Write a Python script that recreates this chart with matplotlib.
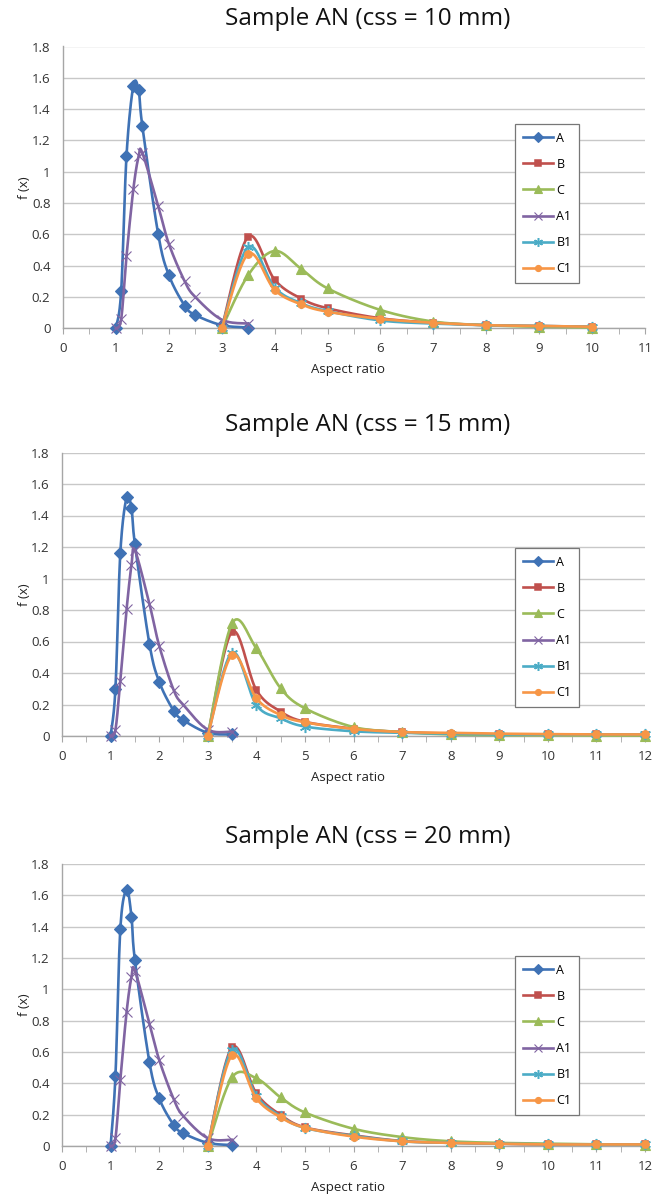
import numpy as np
import matplotlib.pyplot as plt
from matplotlib.lines import Line2D
from matplotlib.ticker import MultipleLocator, FuncFormatter

plt.rcParams['font.family'] = ['Open Sans', 'DejaVu Sans']

# aspect-ratio classes
x_a = [1.0, 1.1, 1.2, 1.33, 1.43, 1.5, 1.8, 2.0, 2.3, 2.5, 3.0, 3.5]
x_b10 = [3, 3.5, 4, 4.5, 5, 6, 7, 8, 9, 10]
x_b = [3, 3.5, 4, 4.5, 5, 6, 7, 8, 9, 10, 11, 12]

# css = 10 mm
a_10 = [0, 0.24, 1.10, 1.55, 1.52, 1.29, 0.60, 0.34, 0.145, 0.085, 0.02, 0.005]
a1_10 = [0, 0.06, 0.46, 0.89, 1.10, 1.12, 0.78, 0.54, 0.30, 0.20, 0.055, 0.03]
b_10 = [0, 0.585, 0.31, 0.19, 0.128, 0.064, 0.036, 0.02, 0.015, 0.01]
c_10 = [0, 0.34, 0.494, 0.38, 0.255, 0.117, 0.043, 0.02, 0.01, 0.005]
b1_10 = [0, 0.52, 0.26, 0.16, 0.11, 0.05, 0.03, 0.02, 0.015, 0.01]
c1_10 = [0, 0.475, 0.245, 0.153, 0.106, 0.06, 0.035, 0.02, 0.015, 0.01]

# css = 15 mm
a_15 = [0, 0.30, 1.16, 1.515, 1.445, 1.22, 0.584, 0.345, 0.16, 0.10, 0.02, 0.01]
a1_15 = [0, 0.04, 0.35, 0.806, 1.086, 1.18, 0.838, 0.574, 0.29, 0.197, 0.04, 0.028]
b_15 = [0, 0.662, 0.292, 0.155, 0.09, 0.047, 0.025, 0.015, 0.01, 0.01, 0.01, 0.005]
c_15 = [0, 0.715, 0.557, 0.303, 0.176, 0.057, 0.025, 0.01, 0.005, 0.005, 0.003, 0.003]
b1_15 = [0, 0.53, 0.197, 0.112, 0.06, 0.03, 0.02, 0.015, 0.01, 0.01, 0.01, 0.01]
c1_15 = [0, 0.514, 0.24, 0.133, 0.087, 0.045, 0.025, 0.02, 0.015, 0.012, 0.01, 0.01]

# css = 20 mm
a_20 = [0, 0.447, 1.383, 1.634, 1.464, 1.187, 0.534, 0.304, 0.134, 0.081, 0.02, 0.006]
a1_20 = [0, 0.05, 0.42, 0.857, 1.08, 1.12, 0.78, 0.55, 0.298, 0.19, 0.05, 0.04]
b_20 = [0, 0.63, 0.336, 0.198, 0.119, 0.068, 0.032, 0.02, 0.015, 0.01, 0.01, 0.01]
c_20 = [0, 0.438, 0.432, 0.31, 0.214, 0.11, 0.057, 0.03, 0.02, 0.015, 0.01, 0.008]
b1_20 = [0, 0.615, 0.32, 0.19, 0.115, 0.065, 0.03, 0.02, 0.015, 0.01, 0.01, 0.01]
c1_20 = [0, 0.58, 0.304, 0.183, 0.117, 0.06, 0.03, 0.02, 0.015, 0.01, 0.01, 0.01]

labels = ["A", "B", "C", "A1", "B1", "C1"]
colors = ["#3F72B5", "#C0504D", "#9BBB59", "#8064A2", "#4BACC6", "#F79646"]
asterisk = (6, 2, 0)
markers = ["D", "s", "^", "x", asterisk, "o"]
msizes = [6, 5, 6.5, 7, 8, 5.5]
open_marks = (1, 4)  # drawn as strokes only

panels = [
    ("Sample AN (css = 10 mm)", 11, [(x_a, a_10), (x_b10, b_10), (x_b10, c_10),
                                    (x_a, a1_10), (x_b10, b1_10), (x_b10, c1_10)]),
    ("Sample AN (css = 15 mm)", 12, [(x_a, a_15), (x_b, b_15), (x_b, c_15),
                                    (x_a, a1_15), (x_b, b1_15), (x_b, c1_15)]),
    ("Sample AN (css = 20 mm)", 12, [(x_a, a_20), (x_b, b_20), (x_b, c_20),
                                    (x_a, a1_20), (x_b, b1_20), (x_b, c1_20)]),
]

# axes boxes in pixels: left, right, top (1.8), bottom (0)
boxes = [(63, 645, 46.5, 328.3), (62, 645, 452.5, 736), (62, 645, 864, 1146)]
title_y = [19, 425, 837]
legend_top = [124, 548, 956]
W, H = 664, 1197


def smooth(x, y, n=20):
    # spreadsheet-style smoothed line: cubic Bezier through the points
    p = np.column_stack([x, y]).astype(float)
    pts = np.vstack([p[0], p, p[-1]])
    out = [p[0]]
    t = np.linspace(0, 1, n)[1:, None]
    for i in range(len(p) - 1):
        p0, p1 = pts[i + 1], pts[i + 2]
        c1 = p0 + (pts[i + 2] - pts[i]) / 6
        c2 = p1 - (pts[i + 3] - pts[i + 1]) / 6
        seg = ((1 - t) ** 3) * p0 + 3 * ((1 - t) ** 2) * t * c1 + 3 * (1 - t) * t ** 2 * c2 + t ** 3 * p1
        out.extend(seg)
    out = np.array(out)
    return out[:, 0], out[:, 1]


def fmt(v, pos):
    s = f"{v:.1f}"
    return s[:-2] if s.endswith(".0") else s


fig = plt.figure(figsize=(W / 100, H / 100), dpi=100)

for k, (title, xmax, series) in enumerate(panels):
    l, r, t, b = boxes[k]
    ax = fig.add_axes([l / W, 1 - b / H, (r - l) / W, (b - t) / H])
    for j, (xs, ys) in enumerate(series):
        sx, sy = smooth(xs, ys)
        z = 3 + j
        ax.plot(sx, sy, color=colors[j], lw=1.9, zorder=z, clip_on=False)
        mew = 1.1 if j in open_marks else 0.8
        ax.plot(xs, ys, ls="none", marker=markers[j], ms=msizes[j], color=colors[j],
                mec=colors[j], mew=mew, zorder=z, clip_on=False)

    ax.set_xlim(0, xmax)
    ax.set_ylim(0, 1.8)
    ax.xaxis.set_major_locator(MultipleLocator(1))
    ax.xaxis.set_minor_locator(MultipleLocator(0.5))
    ax.yaxis.set_major_locator(MultipleLocator(0.2))
    ax.yaxis.set_major_formatter(FuncFormatter(fmt))
    ax.grid(axis="y", color="#C8C8C8", lw=1.0)
    ax.set_axisbelow(True)
    for side in ("top", "right"):
        ax.spines[side].set_visible(False)
    for side in ("left", "bottom"):
        ax.spines[side].set_color("#A6A6A6")
        ax.spines[side].set_linewidth(1.0)
    ax.tick_params(axis="x", which="both", direction="out", length=4, color="#A6A6A6",
                   labelsize=9.5, labelcolor="#333333", pad=6)
    ax.tick_params(axis="y", length=0, labelsize=9.5, labelcolor="#333333", pad=9)
    ax.set_xlabel("Aspect ratio", fontsize=9.5, color="#222222")
    ax.set_ylabel("f (x)", fontsize=9.5, color="#222222")
    ax.xaxis.set_label_coords(0.49, -35 / (b - t))
    ax.yaxis.set_label_coords(-(l - 31) / (r - l), 0.5)

    fig.text(368 / W, 1 - title_y[k] / H, title, fontsize=17.5, ha="center", va="center",
             color="#111111")

    handles = [Line2D([], [], color=colors[j], lw=1.9, marker=markers[j], ms=msizes[j] * 0.8,
                      mec=colors[j], mew=(1.1 if j in open_marks else 0.8))
               for j in range(6)]
    leg = ax.legend(handles, labels, loc="upper left",
                    bbox_to_anchor=((515 - l) / (r - l), (b - legend_top[k]) / (b - t)),
                    borderaxespad=0, fontsize=9, labelspacing=1.05, handlelength=2.4,
                    handletextpad=0.3, borderpad=0.6, fancybox=False, framealpha=1,
                    edgecolor="#777777")
    leg.get_frame().set_linewidth(0.9)

fig.savefig("out.png", dpi=100)
